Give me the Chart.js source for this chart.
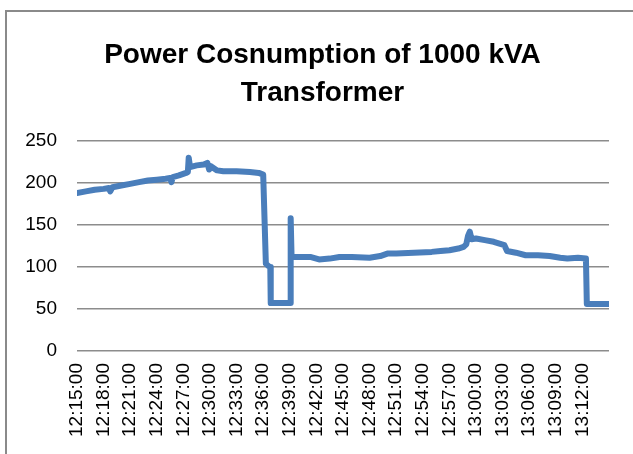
<!DOCTYPE html>
<html>
<head>
<meta charset="utf-8">
<script src="https://cdn.jsdelivr.net/npm/chart.js@4.4.1/dist/chart.umd.min.js"></script>
<style>
  html, body { margin: 0; padding: 0; background: #fff; overflow: hidden; }
  #frame { position: absolute; left: 5px; top: 10px; width: 700px; height: 500px; border: 2px solid #8a8a8a; }
  #wrap { position: absolute; left: 0; top: 0; width: 633px; height: 454px; }
</style>
</head>
<body>
<div id="frame"></div>
<div id="wrap"><canvas id="chart" width="633" height="454"></canvas></div>
<script>
// minutes after 12:15:00
let minutes = [0, 1, 2, 3, 3.6, 3.75, 4, 5, 6, 7, 8, 9, 10, 10.5, 10.65, 10.8, 11.5, 12.3,
  12.5, 12.6, 12.75, 13.5, 14.3, 14.7, 14.9, 15.1, 15.8, 16.5, 18, 19.5, 20.5, 21,
  21.3, 21.6, 21.8, 21.85, 24.05, 24.1, 24.2, 25, 26.3, 27.3, 28.5, 29.6, 31, 33,
  34.2, 35, 36, 38, 40, 41, 42, 43, 43.6, 43.9, 44.1, 44.3, 44.5, 45, 46, 47,
  48.2, 48.5, 49.5, 50.6, 52, 53.3, 54.5, 55.3, 56.5, 57.4, 57.5, 60];

// kVA
let power = [188, 190, 192, 193, 194, 190, 195, 197, 199, 201, 203, 204, 205, 206, 201, 207, 209, 212,
  213, 230, 219, 221, 222, 224, 216, 220, 215, 214, 214, 213, 212, 210,
  104, 101, 100, 57, 57, 158, 112, 112, 112, 109, 110, 112, 112, 111,
  113, 116, 116, 117, 118, 119, 120, 122, 124, 127, 137, 142, 133, 134, 132, 130,
  126, 119, 117, 114, 114, 113, 111, 110, 111, 110, 56, 56];

let timeLabels = ['12:15:00', '12:18:00', '12:21:00', '12:24:00', '12:27:00', '12:30:00',
  '12:33:00', '12:36:00', '12:39:00', '12:42:00', '12:45:00', '12:48:00', '12:51:00',
  '12:54:00', '12:57:00', '13:00:00', '13:03:00', '13:06:00', '13:09:00', '13:12:00'];

let yTicks = [0, 50, 100, 150, 200, 250];

let points = minutes.map((m, i) => ({ x: m, y: power[i] }));

let tickFont = { family: 'Liberation Sans', size: 19 };

let myChart = new Chart(document.getElementById('chart'), {
  type: 'line',
  data: {
    datasets: [{
      label: 'kVA',
      data: points,
      borderColor: '#4A7EBB',
      borderWidth: 6,
      borderJoinStyle: 'round',
      borderCapStyle: 'round',
      pointRadius: 0,
      tension: 0,
      fill: false
    }]
  },
  options: {
    responsive: false,
    animation: false,
    layout: { padding: { left: 12, right: 0, top: 36, bottom: 0 } },
    plugins: {
      legend: { display: false },
      tooltip: { enabled: false },
      title: {
        display: true,
        text: ['Power Cosnumption of 1000 kVA', 'Transformer'],
        color: '#000',
        font: { family: 'Liberation Sans', size: 28, weight: 'bold', lineHeight: '38px' },
        padding: { top: 0, bottom: 29 }
      }
    },
    scales: {
      x: {
        type: 'linear',
        min: 0,
        max: 60,
        grid: { display: false, drawTicks: false },
        border: { display: false },
        afterFit: s => { s.height = 103; s.paddingLeft = 0; s.paddingRight = 0; },
        ticks: {
          stepSize: 3,
          autoSkip: false,
          maxRotation: 90,
          minRotation: 90,
          padding: 12,
          color: '#000',
          font: tickFont,
          callback: v => timeLabels[Math.round(v / 3)] || ''
        }
      },
      y: {
        min: yTicks[0],
        max: yTicks[yTicks.length - 1],
        grid: { color: '#8c8c8c', lineWidth: 1.5, drawTicks: false },
        border: { display: false },
        afterFit: s => { s.width = 65; },
        ticks: {
          stepSize: 50,
          padding: 20,
          color: '#000',
          font: tickFont
        }
      },
      // empty strip on the right so the plot stops where the original does
      yRight: {
        position: 'right',
        display: true,
        grid: { display: false, drawTicks: false },
        border: { display: false },
        ticks: { display: false },
        afterFit: s => { s.width = 24; }
      }
    }
  }
});
</script>
</body>
</html>
